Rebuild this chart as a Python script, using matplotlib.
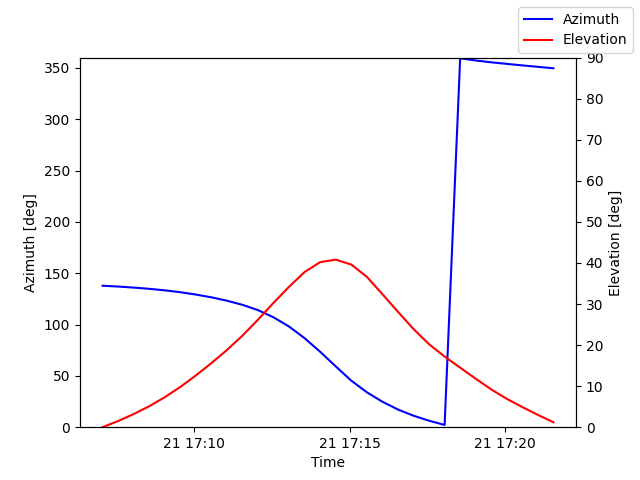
import matplotlib
matplotlib.use("Agg")
import matplotlib.pyplot as plt
import pandas as pd

times = [
    "2023-03-21 17:07:03", "2023-03-21 17:07:33", "2023-03-21 17:08:03", "2023-03-21 17:08:33",
    "2023-03-21 17:09:03", "2023-03-21 17:09:33", "2023-03-21 17:10:03", "2023-03-21 17:10:33",
    "2023-03-21 17:11:03", "2023-03-21 17:11:33", "2023-03-21 17:12:03", "2023-03-21 17:12:33",
    "2023-03-21 17:13:03", "2023-03-21 17:13:33", "2023-03-21 17:14:03", "2023-03-21 17:14:33",
    "2023-03-21 17:15:03", "2023-03-21 17:15:33", "2023-03-21 17:16:03", "2023-03-21 17:16:33",
    "2023-03-21 17:17:03", "2023-03-21 17:17:33", "2023-03-21 17:18:03", "2023-03-21 17:18:33",
    "2023-03-21 17:19:03", "2023-03-21 17:19:33", "2023-03-21 17:20:03", "2023-03-21 17:20:33",
    "2023-03-21 17:21:03", "2023-03-21 17:21:33",
]

azimuth = [137.8, 137.0, 136.0, 134.8, 133.3, 131.5, 129.2, 126.5, 123.2, 119.2,
           114.0, 107.0, 98.0, 86.6, 73.4, 59.2, 45.3, 34.0, 24.8, 17.2,
           11.2, 6.3, 2.2, 359.3, 357.2, 355.4, 353.9, 352.4, 351.0, 349.6]

elevation = [0.0, 1.5, 3.2, 5.1, 7.3, 9.8, 12.6, 15.6, 18.8, 22.3,
             26.2, 30.3, 34.2, 37.8, 40.2, 40.8, 39.6, 36.6, 32.4, 28.1,
             23.9, 20.2, 17.2, 14.5, 11.8, 9.2, 6.9, 4.9, 3.0, 1.2]

t = pd.to_datetime(times)

fig, ax1 = plt.subplots(figsize=(6.4, 4.8), dpi=100)
ax1.plot(t, azimuth, color="blue", label="Azimuth")
ax1.set_ylim(0, 360)
ax1.set_ylabel("Azimuth [deg]")
ax1.set_xlabel("Time")

ax2 = ax1.twinx()
ax2.plot(t, elevation, color="red", label="Elevation")
ax2.set_ylim(0, 90)
ax2.set_ylabel("Elevation [deg]")

fig.legend()
fig.savefig("out.png")
